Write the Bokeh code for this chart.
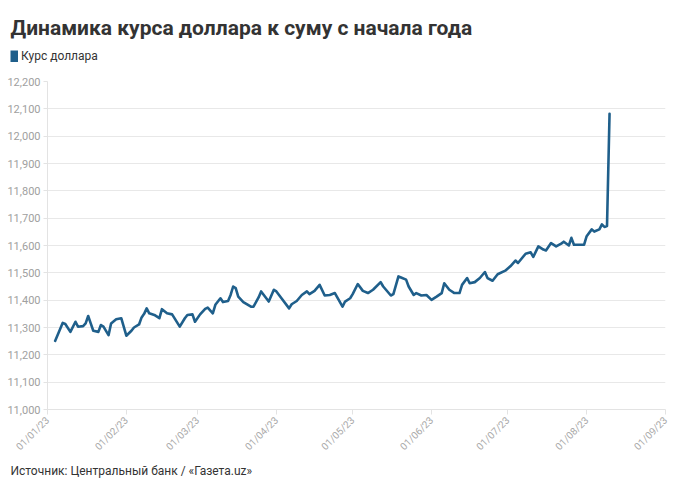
import pandas as pd
from math import pi
from bokeh.plotting import figure
from bokeh.layouts import column
from bokeh.models import (ColumnDataSource, Range1d, FixedTicker, DatetimeTickFormatter,
                          NumeralTickFormatter, Title, Legend, LegendItem)
from bokeh.embed import file_html
from bokeh.resources import INLINE

TITLE = "Динамика курса доллара к суму с начала года"
SERIES_NAME = "Курс доллара"
SOURCE_NOTE = "Источник: Центральный банк / «Газета.uz»"

dates = [
    "2023-01-04", "2023-01-07", "2023-01-08", "2023-01-10", "2023-01-12", "2023-01-13",
    "2023-01-15", "2023-01-16", "2023-01-17", "2023-01-18", "2023-01-19", "2023-01-21",
    "2023-01-22", "2023-01-23", "2023-01-25", "2023-01-26", "2023-01-28", "2023-01-30",
    "2023-02-01", "2023-02-03", "2023-02-04", "2023-02-06", "2023-02-07", "2023-02-08",
    "2023-02-09", "2023-02-10", "2023-02-12", "2023-02-14", "2023-02-15", "2023-02-17",
    "2023-02-19", "2023-02-22", "2023-02-24", "2023-02-25", "2023-02-27", "2023-02-28",
    "2023-03-02", "2023-03-04", "2023-03-05", "2023-03-07", "2023-03-08", "2023-03-10",
    "2023-03-11", "2023-03-13", "2023-03-14", "2023-03-15", "2023-03-16", "2023-03-17",
    "2023-03-19", "2023-03-22", "2023-03-23", "2023-03-25", "2023-03-26", "2023-03-29",
    "2023-03-31", "2023-04-01", "2023-04-03", "2023-04-06", "2023-04-07", "2023-04-09",
    "2023-04-11", "2023-04-13", "2023-04-14", "2023-04-16", "2023-04-18", "2023-04-20",
    "2023-04-22", "2023-04-24", "2023-04-27", "2023-04-28", "2023-04-30", "2023-05-01",
    "2023-05-03", "2023-05-05", "2023-05-07", "2023-05-09", "2023-05-12", "2023-05-13",
    "2023-05-16", "2023-05-17", "2023-05-19", "2023-05-20", "2023-05-22", "2023-05-23",
    "2023-05-25", "2023-05-26", "2023-05-28", "2023-05-30", "2023-06-01", "2023-06-03",
    "2023-06-05", "2023-06-06", "2023-06-08", "2023-06-10", "2023-06-12", "2023-06-13",
    "2023-06-15", "2023-06-16", "2023-06-18", "2023-06-20", "2023-06-22", "2023-06-23",
    "2023-06-25", "2023-06-27", "2023-06-30", "2023-07-02", "2023-07-04", "2023-07-05",
    "2023-07-08", "2023-07-10", "2023-07-11", "2023-07-13", "2023-07-15", "2023-07-16",
    "2023-07-18", "2023-07-20", "2023-07-22", "2023-07-23", "2023-07-25", "2023-07-26",
    "2023-07-27", "2023-07-31", "2023-08-01", "2023-08-03", "2023-08-04", "2023-08-06",
    "2023-08-07", "2023-08-08", "2023-08-09", "2023-08-10",
]
rates = [
    11251, 11317, 11313, 11284, 11321, 11303,
    11305, 11315, 11342, 11315, 11288, 11284,
    11309, 11303, 11272, 11315, 11330, 11334,
    11270, 11288, 11300, 11311, 11337, 11350,
    11370, 11352, 11346, 11334, 11367, 11352,
    11348, 11303, 11334, 11346, 11348, 11321,
    11348, 11368, 11373, 11352, 11383, 11407,
    11393, 11397, 11419, 11450, 11444, 11413,
    11393, 11376, 11376, 11410, 11432, 11395,
    11438, 11432, 11407, 11370, 11385, 11397,
    11419, 11432, 11422, 11434, 11456, 11417,
    11419, 11426, 11376, 11395, 11407, 11422,
    11459, 11434, 11426, 11438, 11466, 11450,
    11417, 11422, 11487, 11483, 11475, 11450,
    11419, 11426, 11417, 11419, 11401, 11413,
    11426, 11462, 11438, 11426, 11426, 11456,
    11481, 11462, 11466, 11481, 11503, 11481,
    11471, 11495, 11508, 11524, 11545, 11536,
    11570, 11575, 11558, 11597, 11585, 11582,
    11609, 11597, 11607, 11614, 11600, 11628,
    11603, 11603, 11634, 11659, 11651, 11659,
    11677, 11668, 11671, 12082,
]

x_ticks = ["2023-01-01", "2023-02-01", "2023-03-01", "2023-04-01", "2023-05-01",
           "2023-06-01", "2023-07-01", "2023-08-01", "2023-09-01"]
y_ticks = [11000, 11100, 11200, 11300, 11400, 11500, 11600,
           11700, 11800, 11900, 12000, 12100, 12200]

LINE_COLOR = "#1f5f8b"
FONT = "Roboto"

src = ColumnDataSource(dict(date=pd.to_datetime(dates), rate=rates))
xt = pd.to_datetime(x_ticks)

# ---------------- main chart ----------------
p = figure(width=680, height=425, x_axis_type="datetime",
           x_range=Range1d(xt[0], xt[-1]), y_range=Range1d(y_ticks[0], y_ticks[-1]),
           output_backend="svg", toolbar_location=None, title=None,
           min_border_left=47, min_border_right=15, min_border_top=15, min_border_bottom=82)
p.frame_align = False
p.outline_line_color = None
p.background_fill_color = "white"
p.border_fill_color = "white"

p.line(x="date", y="rate", source=src, line_color=LINE_COLOR, line_width=2.6,
       line_join="round", line_cap="round")

p.add_layout(Title(text=SOURCE_NOTE, text_font=FONT, text_font_size="12px",
                   text_font_style="normal", text_color="#333333", align="left",
                   offset=-37, standoff=6), "below")

p.xgrid.grid_line_color = None
p.ygrid.grid_line_color = "#e8e8e8"
p.ygrid.ticker = FixedTicker(ticks=y_ticks)

p.yaxis.ticker = FixedTicker(ticks=y_ticks)
p.yaxis.formatter = NumeralTickFormatter(format="0,0")
p.yaxis.axis_line_color = "#e3e3e3"
p.yaxis.major_tick_line_color = "#e3e3e3"
p.yaxis.major_tick_out = 4
p.yaxis.major_tick_in = 0
p.yaxis.minor_tick_line_color = None
p.yaxis.major_label_standoff = 3
p.yaxis.major_label_text_font = FONT
p.yaxis.major_label_text_font_size = "11px"
p.yaxis.major_label_text_color = "#a0a0a0"

p.xaxis.ticker = FixedTicker(ticks=[t.value // 10**6 for t in xt])
fmt = "%d/%m/%y"
p.xaxis.formatter = DatetimeTickFormatter(milliseconds=fmt, seconds=fmt, minsec=fmt, minutes=fmt,
                                          hourmin=fmt, hours=fmt, days=fmt, months=fmt, years=fmt)
p.xaxis.major_label_orientation = pi / 4
p.xaxis.axis_line_color = "#e3e3e3"
p.xaxis.major_tick_line_color = "#e3e3e3"
p.xaxis.major_tick_out = 5
p.xaxis.major_tick_in = 0
p.xaxis.minor_tick_line_color = None
p.xaxis.major_label_standoff = 4
p.xaxis.major_label_text_font = FONT
p.xaxis.major_label_text_font_size = "10px"
p.xaxis.major_label_text_color = "#a8a8a8"

# ---------------- header: title + legend ----------------
h = figure(width=680, height=66, x_range=p.x_range, y_range=p.y_range,
           output_backend="svg", toolbar_location=None, title=None,
           x_axis_location=None, y_axis_location=None,
           min_border_left=10, min_border_right=0, min_border_top=39, min_border_bottom=3)
h.frame_align = False
h.outline_line_color = None
h.xgrid.visible = False
h.ygrid.visible = False
h.add_layout(Title(text=TITLE, text_font=FONT, text_font_size="21px", text_font_style="bold",
                   text_color="#333333", align="left", offset=0, standoff=0), "above")

# legend swatch: a thick, hidden line renderer on the series data
leg_r = h.line(x="date", y="rate", source=src, visible=False,
               line_color=LINE_COLOR, line_width=12, line_cap="butt")
legend = Legend(items=[LegendItem(label=SERIES_NAME, renderers=[leg_r])],
                location="bottom_left", orientation="horizontal",
                label_text_font=FONT, label_text_font_size="12px", label_text_color="#333333",
                glyph_width=8, glyph_height=12, label_standoff=3, padding=0, margin=0,
                spacing=0, border_line_color=None, background_fill_alpha=0)
h.add_layout(legend)

open("out.html", "w").write(file_html(column(h, p, spacing=0), INLINE))
